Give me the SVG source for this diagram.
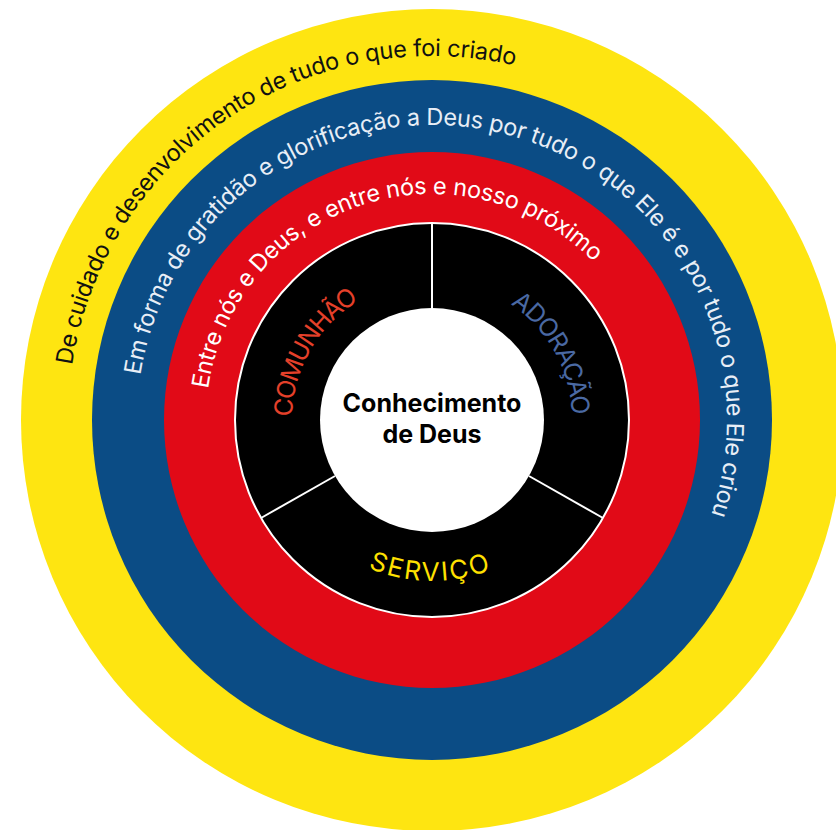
<svg xmlns="http://www.w3.org/2000/svg" xmlns:xlink="http://www.w3.org/1999/xlink" width="836" height="830" viewBox="0 0 836 830">
  <style>
    .arc { font-family: Inter, "Liberation Sans", sans-serif; font-size: 23.5px; font-weight: 400; }
    .lbl { font-family: Inter, "Liberation Sans", sans-serif; font-size: 25px; font-weight: 400; }
    .center { font-family: Inter, "Liberation Sans", sans-serif; font-size: 25px; font-weight: 700; fill: #000; text-anchor: middle; }
    .divider { stroke: #fff; stroke-width: 2; }
  </style>
  <defs>
    <path id="pY" d="M 68,420 A 364 364 0 0 1 796,420 A 364 364 0 0 1 68,420"/>
    <path id="pB" d="M 137,420 A 295 295 0 0 1 727,420 A 295 295 0 0 1 137,420"/>
    <path id="pR" d="M 206,420 A 226 226 0 0 1 658,420 A 226 226 0 0 1 206,420"/>
    <path id="pIn" d="M 292,420 A 140 140 0 0 1 572,420 A 140 140 0 0 1 292,420"/>
    <path id="pS" d="M 271,420 A 161 161 0 0 0 593,420"/>
  </defs>
  <rect width="836" height="830" fill="#fff"/>

  <g id="ring-yellow">
    <circle cx="432" cy="420" r="411" fill="#FEE511"/>
    <text class="arc" fill="#111"><textPath xlink:href="#pY" href="#pY" startOffset="55" textLength="600" lengthAdjust="spacing">De cuidado e desenvolvimento de tudo o que foi criado</textPath></text>
  </g>

  <g id="ring-blue">
    <circle cx="432" cy="420" r="340" fill="#0B4C85"/>
    <text class="arc" fill="#E8EEF6"><textPath xlink:href="#pB" href="#pB" startOffset="45" textLength="978" lengthAdjust="spacing">Em forma de gratidão e glorificação a Deus por tudo o que Ele é e por tudo o que Ele criou</textPath></text>
  </g>

  <g id="ring-red">
    <circle cx="432" cy="420" r="268" fill="#E10A17"/>
    <text class="arc" fill="#fff"><textPath xlink:href="#pR" href="#pR" startOffset="31" textLength="504" lengthAdjust="spacing">Entre nós e Deus, e entre nós e nosso próximo</textPath></text>
  </g>

  <g id="ring-black">
    <circle cx="432" cy="420" r="197" fill="#000" stroke="#fff" stroke-width="2"/>
  </g>

  <g id="connectors">
    <line class="divider" x1="432" y1="223" x2="432" y2="308"/>
    <line class="divider" x1="261" y1="518" x2="335" y2="476"/>
    <line class="divider" x1="603" y1="518" x2="529" y2="476"/>
  </g>

  <g id="comunhao">
    <text class="lbl" fill="#E5402A"><textPath xlink:href="#pIn" href="#pIn" startOffset="3" textLength="140" lengthAdjust="spacing">COMUNHÃO</textPath></text>
  </g>
  <g id="adoracao">
    <text class="lbl" fill="#4A69A3"><textPath xlink:href="#pIn" href="#pIn" startOffset="303" textLength="132" lengthAdjust="spacing">ADORAÇÃO</textPath></text>
  </g>
  <g id="servico">
    <text class="lbl" fill="#FFE100" style="font-size:26px"><textPath xlink:href="#pS" href="#pS" startOffset="187" textLength="126" lengthAdjust="spacing">SERVIÇO</textPath></text>
  </g>

  <g id="conhecimento">
    <circle cx="432" cy="420" r="112" fill="#fff"/>
    <text class="center" x="432" y="412">Conhecimento</text>
    <text class="center" x="432" y="443">de Deus</text>
  </g>
</svg>
